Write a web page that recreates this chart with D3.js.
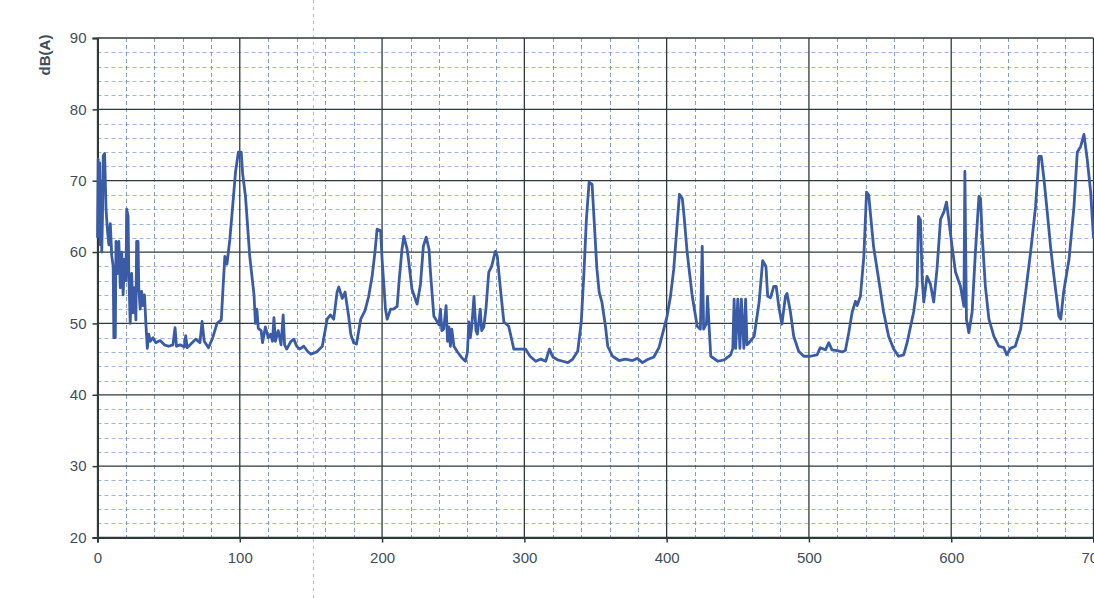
<!DOCTYPE html>
<html>
<head>
<meta charset="utf-8">
<script src="https://cdn.jsdelivr.net/npm/d3@7/dist/d3.min.js"></script>
<style>
  html, body { margin: 0; padding: 0; background: #ffffff; overflow: hidden; }
  svg { display: block; }
</style>
</head>
<body>
<svg id="chart" width="1094" height="598"></svg>
<script>
// ---- data ----
const yTicks = [20, 30, 40, 50, 60, 70, 80, 90];
const xTicks = [0, 100, 200, 300, 400, 500, 600, 700];
const yLabel = "dB(A)";

const time = [
  0, 0.5, 1, 1.5, 2, 2.5, 3, 3.5, 4, 5, 6, 7, 8, 9, 10, 11, 11.5, 12.5, 13, 14,
  15, 16, 17, 18, 19, 20, 20.5, 21.5, 22, 23, 24, 25, 26, 27, 27.5, 28.5, 29, 30, 31, 32,
  33, 34, 35, 36, 37, 39, 41, 44, 47, 50, 53, 54.5, 55.5, 58, 61, 62, 63, 66, 69, 72,
  73.5, 75, 78, 81, 84, 87, 88.5, 89.5, 91, 93, 95, 97, 99, 101, 102, 104, 107, 110, 111, 112,
  113, 115, 116, 118, 120, 121.6, 123, 124, 125, 127, 129, 130.5, 131.5, 133, 136, 138, 140, 142, 145, 148,
  150, 154, 158, 160, 161.4, 163.7, 166, 168.4, 169.6, 172, 174, 176.5, 178, 180, 182, 185, 188, 190.6, 193, 195,
  196.5, 199, 200, 202.4, 203.6, 206, 208, 210.6, 212, 214, 215.3, 217.6, 218.8, 221, 224.6, 227, 229, 231, 233, 234,
  236.4, 238, 240, 241, 242, 243.3, 245, 246, 247, 248, 249, 250.5, 253, 256, 258.6, 260, 261, 262, 263, 264.6,
  266, 267, 269, 270, 271.5, 273, 275, 277, 279.6, 281, 283, 285.6, 289, 292.6, 297, 300.8, 304, 308, 311.5, 315,
  317.6, 320, 323.4, 327, 330.6, 334, 337.5, 340, 342, 343.6, 345.5, 347.6, 349, 351, 352.6, 354.5, 357, 358.6, 362, 366.5,
  371, 376, 379.4, 383, 386.3, 391, 394.6, 398, 400.3, 402.7, 405, 407.5, 409, 411, 412, 414.4, 418, 421.5, 423.7, 425,
  426, 428, 428.7, 430, 431, 436, 440.5, 445, 446.5, 447.4, 448.5, 450, 451.5, 452.5, 454.3, 455.5, 456.5, 458, 461.5, 465,
  467.5, 469.8, 471, 473, 475.3, 477, 478.8, 481, 483.5, 484.6, 487, 489.3, 492.8, 496.4, 501, 505.7, 508, 511.6, 514, 516.2,
  519.7, 523.3, 525.6, 528, 530.4, 532.7, 533.9, 536.2, 538.6, 540.5, 542, 545.4, 549, 552.5, 556, 559.6, 563, 566.6, 569, 573.6,
  576, 577, 578.4, 579.6, 580.7, 583, 585.4, 587.7, 590, 592.5, 594.8, 596.7, 598.3, 600.6, 603, 606.5, 608.9, 609.6, 610.7, 612.4,
  614.7, 617, 619.5, 620.6, 621.8, 624, 626.5, 630, 633.5, 637, 639, 641.6, 645, 648.8, 652.3, 655.8, 659.3, 661.7, 663.3, 665.2,
  667.5, 669.8, 672.2, 675.7, 677, 679, 682.8, 686.3, 688.6, 691, 693.3, 695.6, 698, 700
];

const level = [
  62, 73, 64, 72.5, 61, 70, 60, 65, 73.5, 73.8, 66, 63, 61, 64, 59.5, 58, 48, 48, 61.5, 57,
  61.5, 55, 60, 54, 59, 56, 66, 65, 57, 50, 57, 51.5, 55, 50.5, 61.5, 61.5, 55, 52, 54.5, 52.5,
  54, 50, 46.5, 48.5, 47.5, 48, 47.3, 47.6, 47, 46.8, 47, 49.4, 46.8, 47, 46.7, 48.3, 46.6, 47.2, 47.8, 47.3,
  50.3, 47.5, 46.6, 48, 50, 50.5, 56, 59.4, 58.3, 61.8, 66.4, 71.2, 74, 74, 71, 67.8, 59.4, 54, 50, 52,
  49.3, 49, 47.3, 49.5, 48, 48.5, 47.5, 50.8, 47.5, 49, 47, 51.2, 47, 46.4, 47.5, 47.8, 46.8, 46.4, 46.8, 46,
  45.7, 46, 46.8, 49, 50.6, 51.2, 50.6, 54.4, 55.1, 53.5, 54.4, 51, 48.5, 47.3, 47.1, 50.6, 51.8, 53.8, 56.6, 60,
  63.2, 63, 59, 52, 50.6, 52, 52, 52.4, 56, 60.4, 62.2, 60.4, 58.6, 54.8, 52.7, 55.5, 60.8, 62.1, 60.4, 57.2,
  51, 50.5, 49.8, 52, 49, 49.2, 52.5, 47.5, 49.5, 46.8, 49.2, 46.8, 46, 45.2, 44.7, 46, 50.2, 48, 49.5, 53.8,
  49, 48.5, 52, 49, 49.5, 52, 57.2, 58, 60.1, 59.4, 55.2, 50.2, 49.6, 46.4, 46.4, 46.4, 45.4, 44.7, 45, 44.7,
  46.4, 45.3, 44.9, 44.7, 44.5, 45, 46.1, 50.2, 57.6, 64.6, 69.8, 69.5, 64.6, 57.6, 54.4, 53, 49.6, 46.8, 45.4, 44.8,
  45, 44.8, 45.1, 44.5, 44.9, 45.3, 46.6, 49.2, 51, 53.8, 57.6, 64.2, 68.1, 67.5, 65.6, 60, 53.8, 49.6, 49.2, 60.8,
  49.2, 50, 53.8, 49, 45.4, 44.7, 44.9, 45.6, 46.5, 53.4, 46.5, 53.4, 46.5, 53.4, 46.5, 53.4, 47, 47.3, 48.2, 53,
  58.8, 58, 53.8, 53.6, 55.2, 55.2, 52.4, 49.9, 53.8, 54.2, 51.6, 48.2, 46.1, 45.4, 45.4, 45.6, 46.6, 46.3, 47.3, 46.3,
  46.2, 46, 46.2, 48.7, 51.6, 53.1, 52.5, 53.8, 59.4, 68.4, 68, 60.8, 56.2, 51.6, 48.2, 46.4, 45.4, 45.6, 47.3, 51.6,
  55.2, 65, 64.5, 56.2, 53, 56.6, 55.5, 53, 57.6, 64.6, 65.6, 67, 64.5, 60.8, 57.2, 55.2, 52.4, 71.3, 50.6, 48.7,
  51.6, 60, 67.8, 67.5, 62.2, 55.2, 50.6, 48.2, 46.8, 46.6, 45.6, 46.5, 46.8, 49.2, 54.4, 60, 66.4, 73.4, 73.4, 70.2,
  65.6, 60.8, 56.6, 51, 50.6, 54.4, 59, 66.4, 74, 74.8, 76.5, 73, 68.4, 62
];

// ---- chart ----
const svg = d3.select("#chart");
const W = 1094, H = 598;
const pLeft = 97.5, pRight = 1093.5, pTop = 38, pBottom = 537.5;

const x = d3.scaleLinear().domain([0, 700]).range([pLeft, pRight]);
const y = d3.scaleLinear().domain([20, 90]).range([pBottom, pTop]);

svg.append("rect").attr("width", W).attr("height", H).attr("fill", "#ffffff");

// stray scan line
svg.append("line")
  .attr("x1", 313.5).attr("x2", 313.5).attr("y1", 0).attr("y2", H)
  .attr("stroke", "#a8c4e8").attr("stroke-width", 1.2)
  .attr("stroke-dasharray", "3,4");

const grid = svg.append("g");

// minor grid
const minorY = d3.range(22, 90, 2).filter(v => v % 10 !== 0);
const minorX = d3.range(20, 701, 20).filter(v => v % 100 !== 0);

grid.selectAll(".my").data(minorY).join("line")
  .attr("x1", pLeft).attr("x2", pRight)
  .attr("y1", d => Math.round(y(d)) + 0.5).attr("y2", d => Math.round(y(d)) + 0.5)
  .attr("stroke", "#7f9fd0").attr("stroke-width", 1)
  .attr("stroke-dasharray", "4,3").attr("opacity", 0.75);

grid.selectAll(".mx").data(minorX).join("line")
  .attr("y1", pTop).attr("y2", pBottom)
  .attr("x1", d => Math.round(x(d)) + 0.5).attr("x2", d => Math.round(x(d)) + 0.5)
  .attr("stroke", "#6f8cc0").attr("stroke-width", 1)
  .attr("stroke-dasharray", "4,3").attr("opacity", 0.85);

// major grid
grid.selectAll(".My").data(yTicks).join("line")
  .attr("x1", pLeft).attr("x2", pRight)
  .attr("y1", d => y(d)).attr("y2", d => y(d))
  .attr("stroke", "#2e3a3a").attr("stroke-width", 1.3);

grid.selectAll(".Mx").data(xTicks).join("line")
  .attr("y1", pTop).attr("y2", pBottom)
  .attr("x1", d => x(d)).attr("x2", d => x(d))
  .attr("stroke", "#2e3a3a").attr("stroke-width", 1.3);

// axes
const yAxis = d3.axisLeft(y).tickValues(yTicks).tickSize(5).tickPadding(6).tickFormat(d3.format("d"));
const xAxis = d3.axisBottom(x).tickValues(xTicks).tickSize(5).tickPadding(10).tickFormat(d3.format("d"));

const gy = svg.append("g").attr("transform", `translate(${pLeft},0)`).call(yAxis);
const gx = svg.append("g").attr("transform", `translate(0,${pBottom})`).call(xAxis);

[gy, gx].forEach(g => {
  g.select(".domain").attr("stroke", "#2e3a3a").attr("stroke-width", 2);
  g.selectAll(".tick line").attr("stroke", "#2e3a3a").attr("stroke-width", 1.5);
  g.selectAll(".tick text")
    .attr("fill", "#3e4e5c")
    .style("font-family", "'Liberation Sans', Arial, sans-serif")
    .style("font-size", "15px");
});

// y label
svg.append("text")
  .attr("transform", "translate(50,55) rotate(-90)")
  .attr("text-anchor", "middle")
  .attr("fill", "#3e4e5c")
  .style("font-family", "'Liberation Sans', Arial, sans-serif")
  .style("font-size", "15px")
  .style("font-weight", "bold")
  .text(yLabel);

// data line
const pts = time.map((t, i) => [t, level[i]]);
const line = d3.line().x(d => x(d[0])).y(d => y(d[1]));

svg.append("path")
  .datum(pts)
  .attr("d", line)
  .attr("fill", "none")
  .attr("stroke", "#3a5ba6")
  .attr("stroke-width", 2.8)
  .attr("stroke-linejoin", "round");
</script>
</body>
</html>
